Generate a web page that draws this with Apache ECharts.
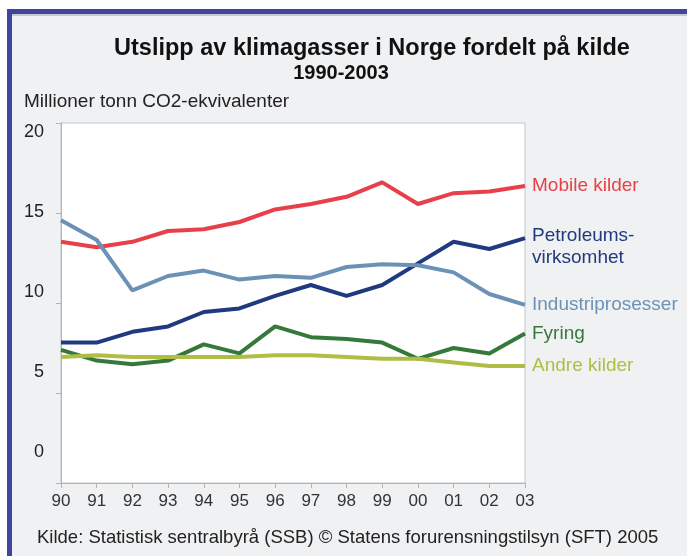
<!DOCTYPE html>
<html>
<head>
<meta charset="utf-8">
<script src="https://cdn.jsdelivr.net/npm/echarts@6/dist/echarts.min.js"></script>
<style>
  html, body { margin: 0; padding: 0; background: #fff; }
  #chart { width: 687px; height: 556px; }
</style>
</head>
<body>
<div id="chart"></div>
<script>
var years = ['90', '91', '92', '93', '94', '95', '96', '97', '98', '99', '00', '01', '02', '03']
var yTicks = [0, 5, 10, 15, 20]

var mobile = [13.4, 13.1, 13.4, 14.0, 14.1, 14.5, 15.2, 15.5, 15.9, 16.7, 15.5, 16.1, 16.2, 16.5]
var petroleum = [7.8, 7.8, 8.4, 8.7, 9.5, 9.7, 10.4, 11.0, 10.4, 11.0, 12.2, 13.4, 13.0, 13.6]
var industri = [14.6, 13.5, 10.7, 11.5, 11.8, 11.3, 11.5, 11.4, 12.0, 12.15, 12.1, 11.7, 10.5, 9.9]
var fyring = [7.4, 6.8, 6.6, 6.8, 7.7, 7.2, 8.7, 8.1, 8.0, 7.8, 6.9, 7.5, 7.2, 8.3]
var andre = [7.0, 7.1, 7.0, 7.0, 7.0, 7.0, 7.1, 7.1, 7.0, 6.9, 6.9, 6.7, 6.5, 6.5]

var font = 'Liberation Sans, Arial, sans-serif'

var chart = echarts.init(document.getElementById('chart'))

function line(name, data, color, label, offset) {
	return {
		name: name,
		type: 'line',
		data: data,
		symbol: 'none',
		lineStyle: { color: color, width: 4 },
		itemStyle: { color: color },
		endLabel: {
			show: true,
			formatter: label,
			color: color,
			fontFamily: font,
			fontSize: 19,
			lineHeight: 22,
			distance: 7,
			offset: offset || [0, 0],
		},
		z: 3,
	}
}

var option = {
	backgroundColor: '#f0f1f3',
	animation: false,
	graphic: [
		{ type: 'rect', left: 0, top: 0, shape: { width: 687, height: 9 }, style: { fill: '#ffffff' } },
		{ type: 'rect', left: 0, top: 0, shape: { width: 7, height: 556 }, style: { fill: '#ffffff' } },
		{ type: 'rect', left: 7, top: 9, shape: { width: 680, height: 5 }, style: { fill: '#40449c' } },
		{ type: 'rect', left: 7, top: 9, shape: { width: 5, height: 547 }, style: { fill: '#40449c' } },
		{ type: 'rect', left: 12, top: 14, shape: { width: 675, height: 2 }, style: { fill: '#c8c9cc' } },
		{
			type: 'text',
			left: 24,
			top: 92,
			style: { text: 'Millioner tonn CO2-ekvivalenter', font: '19px ' + font, fill: '#222' },
		},
		{
			type: 'text',
			left: 37,
			top: 528,
			style: {
				text: 'Kilde: Statistisk sentralbyrå (SSB) © Statens forurensningstilsyn (SFT) 2005',
				font: '18.5px ' + font,
				fill: '#222',
			},
		},
	],
	title: [
		{
			text: 'Utslipp av klimagasser i Norge fordelt på kilde',
			left: 367,
			textAlign: 'center',
			top: 32,
			textStyle: { fontFamily: font, fontSize: 23.5, fontWeight: 'bold', color: '#111' },
		},
		{
			text: '1990-2003',
			left: 336,
			textAlign: 'center',
			top: 58,
			textStyle: { fontFamily: font, fontSize: 20, fontWeight: 'bold', color: '#111' },
		},
	],
	grid: {
		left: 61,
		right: 162,
		top: 123,
		bottom: 73,
		show: true,
		backgroundColor: '#ffffff',
		borderColor: '#c4c4c4',
		borderWidth: 1,
	},
	xAxis: {
		type: 'category',
		data: years,
		boundaryGap: false,
		axisLine: { lineStyle: { color: '#b4b4b4', width: 1 } },
		axisTick: { show: true, length: 5, lineStyle: { color: '#b4b4b4' }, alignWithLabel: true },
		axisLabel: { color: '#333', fontFamily: font, fontSize: 17, margin: 10 },
		splitLine: { show: false },
	},
	yAxis: [
		{
			type: 'value',
			min: 0,
			max: 20,
			interval: 5,
			axisLine: { show: true, lineStyle: { color: '#b4b4b4' } },
			axisTick: { show: true, length: 5, lineStyle: { color: '#b4b4b4' } },
			axisLabel: { show: false },
			splitLine: { show: false },
		},
		{
			// the source image draws its tick labels off the ticks; a label-only axis reproduces that
			type: 'value',
			position: 'left',
			min: -1.9375,
			max: 20.5625,
			axisLine: { show: false },
			axisTick: { show: false },
			splitLine: { show: false },
			axisLabel: {
				customValues: yTicks,
				color: '#222',
				fontFamily: font,
				fontSize: 18,
				margin: 17,
			},
		},
	],
	series: [
		line('Mobile kilder', mobile, '#e8404a', 'Mobile kilder'),
		line('Petroleumsvirksomhet', petroleum, '#1f3a7e', 'Petroleums-\nvirksomhet', [0, 9]),
		line('Industriprosesser', industri, '#6b92b6', 'Industriprosesser'),
		line('Fyring', fyring, '#35793a', 'Fyring'),
		line('Andre kilder', andre, '#b0bd45', 'Andre kilder'),
	],
}

chart.setOption(option)
</script>
</body>
</html>
